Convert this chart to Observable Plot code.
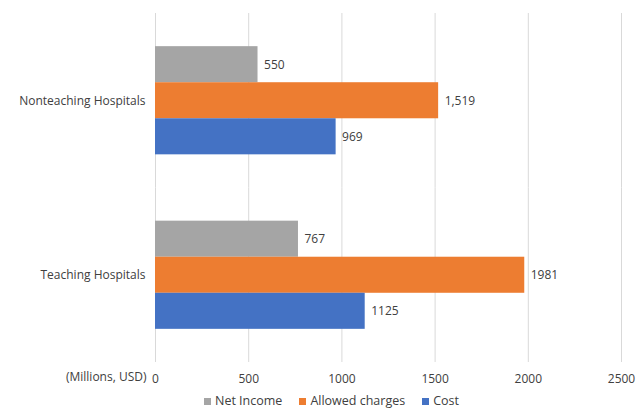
<!DOCTYPE html>
<html><head><meta charset="utf-8">
<script src="https://cdn.jsdelivr.net/npm/d3@7"></script>
<script src="https://cdn.jsdelivr.net/npm/@observablehq/plot@0.6"></script>
<style>
html,body{margin:0;background:#fff;font-family:"Open Sans",sans-serif;overflow:hidden;}
#chart svg{display:block;}
#legend{display:flex;justify-content:center;gap:17px;font-size:12.5px;line-height:16px;color:#404040;height:20px;align-items:center;padding-left:22px;position:relative;top:1px;}
#legend span.item{display:inline-flex;align-items:center;}
.sw{display:inline-block;width:7px;height:7px;margin-right:4px;}
</style></head><body>
<div id="chart"></div><div id="legend"></div>
<script>
const hospitals = ["Nonteaching Hospitals", "Teaching Hospitals"];
const series = ["Net Income", "Allowed charges", "Cost"];
const netIncome = [550, 767];
const allowedCharges = [1519, 1981];
const cost = [969, 1125];
const valueLabels = [["550", "1,519", "969"], ["767", "1981", "1125"]];
const xTicks = [0, 500, 1000, 1500, 2000, 2500];
const axisNote = "(Millions, USD)";
const colors = ["#a5a5a5", "#ed7d31", "#4472c4"];

const seriesValues = [netIncome, allowedCharges, cost];
const rows = [];
hospitals.forEach((h, i) => {
  series.forEach((s, j) => {
    rows.push({hospital: h, series: s, value: seriesValues[j][i], label: valueLabels[i][j]});
  });
});

const chart = Plot.plot({
  width: 641, height: 390,
  marginTop: 13, marginBottom: 28, marginLeft: 155, marginRight: 20,
  style: {fontFamily: "'Open Sans', sans-serif", fontSize: "12px", color: "#404040", background: "#fff"},
  x: {domain: [0, 2500], ticks: xTicks, tickFormat: d3.format("d"), tickSize: 0, tickPadding: 12, label: null},
  y: {domain: series, axis: null, paddingInner: 0, paddingOuter: 0.92, round: false},
  fy: {domain: hospitals, padding: 0, label: null, tickSize: 0, tickPadding: 10, axis: "left", round: false},
  color: {domain: series, range: colors},
  marks: [
    Plot.ruleX(xTicks, {stroke: "#d9d9d9", strokeOpacity: 1}),
    Plot.barX(rows, {x: "value", y: "series", fy: "hospital", fill: "series"}),
    Plot.text(rows, {x: "value", y: "series", fy: "hospital", text: "label", dx: 6, textAnchor: "start", fill: "#404040", fontSize: 12}),
    Plot.text([{t: axisNote, x: 0, hospital: hospitals[1]}], {x: "x", fy: "hospital", text: "t", frameAnchor: "bottom", dy: 18, dx: -9, textAnchor: "end", fill: "#404040"})
  ]
});
document.getElementById("chart").appendChild(chart);

const legend = document.getElementById("legend");
series.forEach((s, j) => {
  const it = document.createElement("span");
  it.className = "item";
  it.innerHTML = `<span class="sw" style="background:${colors[j]}"></span>${s}`;
  legend.appendChild(it);
});
</script>
</body></html>
